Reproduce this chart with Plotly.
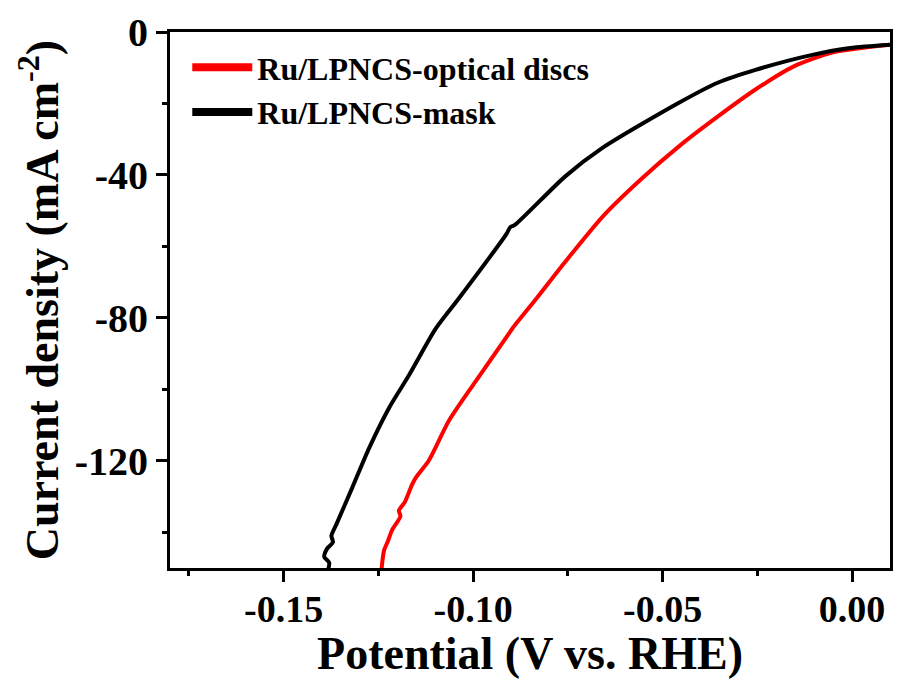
import plotly.graph_objects as go

# Ru/LPNCS-optical discs (red)
red_x = [0.0100, 0.0024, -0.0055, -0.0155, -0.0255, -0.0355, -0.0457, -0.0557, -0.0657,
         -0.0757, -0.0833, -0.0896, -0.0914, -0.0993, -0.1064, -0.1117, -0.1150, -0.1161,
         -0.1180, -0.1196, -0.1192, -0.1214, -0.1225, -0.1235, -0.1240, -0.1242]
red_y = [-3.6, -4.5, -5.8, -9.7, -16.1, -23.7, -32.0, -41.2, -51.5,
         -64.3, -74.6, -82.9, -85.7, -97.7, -108.8, -119.9, -124.5, -126.6,
         -131.5, -133.9, -135.5, -139.4, -142.5, -145.0, -148.5, -151.0]

# Ru/LPNCS-mask (black)
blk_x = [0.0100, -0.0005, -0.0105, -0.0255, -0.0355, -0.0457, -0.0657, -0.0757, -0.0890,
         -0.0902, -0.0912, -0.1038, -0.1098, -0.1169, -0.1222, -0.1274, -0.1319, -0.1361,
         -0.1374, -0.1370, -0.1385, -0.1393, -0.1380, -0.1384]
blk_y = [-3.6, -4.5, -6.4, -10.6, -14.2, -19.8, -32.3, -40.4, -54.0,
         -54.6, -56.5, -74.6, -82.9, -96.0, -105.2, -116.3, -127.5, -137.8,
         -141.0, -142.8, -144.5, -146.9, -148.5, -151.0]

names = ["Ru/LPNCS-optical discs", "Ru/LPNCS-mask"]
colors = ["#ff0000", "#000000"]

x_tickvals = [-0.15, -0.10, -0.05, 0.00]
x_ticktext = ["-0.15", "-0.10", "-0.05", "0.00"]
x_minor = [-0.175, -0.125, -0.075, -0.025]
y_tickvals = [0, -40, -80, -120]
y_ticktext = ["0", "-40", "-80", "-120"]
y_minor = [-20, -60, -100, -140]

FONT = "Liberation Serif"

fig = go.Figure()
fig.add_trace(go.Scatter(x=red_x, y=red_y, mode="lines", showlegend=False,
                         line=dict(color=colors[0], width=4, shape="spline", smoothing=0.7)))
fig.add_trace(go.Scatter(x=blk_x, y=blk_y, mode="lines", showlegend=False,
                         line=dict(color=colors[1], width=4, shape="spline", smoothing=0.7)))
# legend entries with thicker lines
for n, c in zip(names, colors):
    fig.add_trace(go.Scatter(x=[None], y=[None], mode="lines", name=n,
                             line=dict(color=c, width=8)))

axis_common = dict(
    showline=True, linewidth=3, linecolor="black", mirror=True,
    ticks="outside", ticklen=11, tickwidth=3, tickcolor="black",
    showgrid=False, zeroline=False,
)

fig.update_xaxes(
    range=[-0.18, 0.01], tickvals=x_tickvals, ticktext=x_ticktext,
    tickfont=dict(family=FONT, size=38, color="black", weight="bold"),
    ticklabelstandoff=-6,
    minor=dict(tickvals=x_minor, ticks="outside", ticklen=5, tickwidth=3, tickcolor="black"),
    title=dict(text="Potential (V vs. RHE)", standoff=11,
               font=dict(family=FONT, size=46, color="black", weight="bold")),
    **axis_common,
)
fig.update_yaxes(
    range=[-150, 0], tickvals=y_tickvals, ticktext=y_ticktext,
    tickfont=dict(family=FONT, size=40, color="black", weight="bold"),
    minor=dict(tickvals=y_minor, ticks="outside", ticklen=5, tickwidth=3, tickcolor="black"),
    title=dict(text="Current density (mA cm<sup>-2</sup>)", standoff=2,
               font=dict(family=FONT, size=46, color="black", weight="bold")),
    **axis_common,
)

fig.update_layout(
    width=899, height=679,
    margin=dict(l=170, r=6, t=32, b=107),
    paper_bgcolor="white", plot_bgcolor="white",
    legend=dict(x=0.024, y=0.985, xanchor="left", yanchor="top",
                bgcolor="rgba(0,0,0,0)", itemwidth=60, tracegroupgap=0,
                font=dict(family=FONT, size=32, color="black", weight="bold")),
)

fig.write_html("out.html")
